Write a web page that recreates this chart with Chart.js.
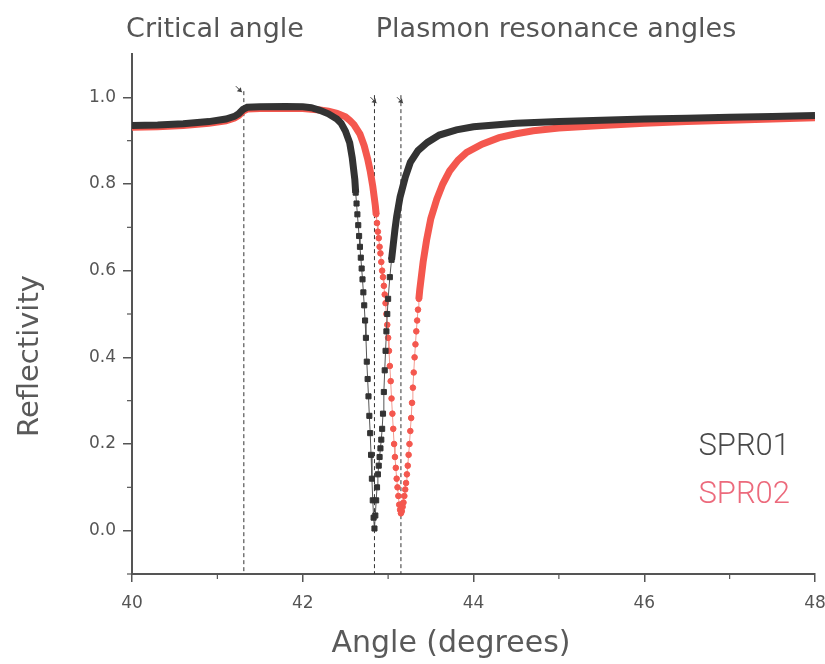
<!DOCTYPE html>
<html>
<head>
<meta charset="utf-8">
<script src="https://cdn.jsdelivr.net/npm/chart.js@4.4.1/dist/chart.umd.min.js"></script>
<style>
  html, body { margin: 0; padding: 0; background: #fff; }
  #wrap { width: 825px; height: 664px; }
</style>
</head>
<body>
<div id="wrap"><canvas id="sprChart"></canvas></div>
<script>
// SPR01 reflectivity curve (angle in degrees)
const spr01Angle = [
  40.0, 40.3, 40.6, 40.9, 41.1, 41.2, 41.25, 41.3, 41.35, 41.5, 41.8, 42.0, 42.1, 42.2, 42.3, 42.4, 42.45, 42.5, 42.55, 42.58, 42.61,
  42.62, 42.63, 42.64, 42.65, 42.66, 42.67, 42.68, 42.69, 42.70, 42.71, 42.72, 42.73, 42.74, 42.75, 42.76, 42.77, 42.78, 42.79,
  42.80, 42.81, 42.82, 42.83, 42.84, 42.85, 42.86, 42.87, 42.88, 42.89, 42.90, 42.91, 42.92, 42.93, 42.94, 42.95, 42.96, 42.97,
  42.98, 42.99, 43.0, 43.02, 43.04, 43.06, 43.08, 43.10, 43.14, 43.2, 43.26, 43.35, 43.46, 43.6, 43.8, 44.0, 44.5, 45.0, 45.5,
  46.0, 46.5, 47.0, 47.5, 48.0
];
const spr01Refl = [
  0.935, 0.936, 0.939, 0.944, 0.950, 0.956, 0.962, 0.972, 0.977, 0.978, 0.979, 0.978, 0.976, 0.970, 0.962, 0.950, 0.940, 0.922, 0.895, 0.86, 0.81,
  0.78, 0.755, 0.73, 0.705, 0.68, 0.655, 0.63, 0.605, 0.58, 0.55, 0.52, 0.485, 0.445, 0.39, 0.35, 0.31, 0.265, 0.225,
  0.175, 0.12, 0.07, 0.03, 0.005, 0.035, 0.07, 0.10, 0.13, 0.15, 0.17, 0.19, 0.21, 0.235, 0.27, 0.32, 0.37, 0.415,
  0.46, 0.50, 0.535, 0.585, 0.625, 0.66, 0.695, 0.725, 0.77, 0.815, 0.85, 0.877, 0.896, 0.913, 0.925, 0.932, 0.940, 0.944, 0.947,
  0.950, 0.952, 0.954, 0.956, 0.958
];

// SPR02 reflectivity curve
const spr02Angle = [
  40.0, 40.3, 40.6, 40.9, 41.1, 41.2, 41.25, 41.3, 41.35, 41.5, 41.8, 42.0, 42.2, 42.3, 42.4, 42.5, 42.55, 42.6, 42.67, 42.72,
  42.76, 42.79, 42.82, 42.85,
  42.86, 42.87, 42.88, 42.89, 42.90, 42.91, 42.92, 42.93, 42.94, 42.95, 42.96, 42.97, 42.98, 42.99, 43.00, 43.01, 43.02, 43.03,
  43.04, 43.05, 43.06, 43.07, 43.08, 43.09, 43.10, 43.11, 43.12, 43.13, 43.14, 43.15, 43.16, 43.17, 43.18, 43.19, 43.20, 43.21,
  43.22, 43.23, 43.24, 43.25, 43.26, 43.27, 43.28, 43.29, 43.30, 43.31, 43.32, 43.33, 43.34, 43.35, 43.36, 43.37,
  43.41, 43.45, 43.50, 43.57, 43.64, 43.72, 43.82, 43.92, 44.1, 44.3, 44.5, 44.7, 45.0, 45.5, 46.0, 46.5, 47.0, 47.5, 48.0
];
const spr02Refl = [
  0.931, 0.932, 0.935, 0.940, 0.946, 0.952, 0.958, 0.968, 0.973, 0.974, 0.975, 0.974, 0.971, 0.968, 0.963, 0.955, 0.947, 0.937, 0.915, 0.888,
  0.858, 0.83, 0.795, 0.75,
  0.73, 0.71, 0.69, 0.675, 0.655, 0.64, 0.62, 0.60, 0.585, 0.565, 0.545, 0.525, 0.50, 0.475, 0.445, 0.415, 0.38, 0.345,
  0.305, 0.27, 0.235, 0.20, 0.17, 0.145, 0.12, 0.10, 0.08, 0.06, 0.048, 0.04, 0.045, 0.055, 0.065, 0.08, 0.095, 0.11,
  0.13, 0.15, 0.175, 0.20, 0.23, 0.26, 0.295, 0.33, 0.365, 0.40, 0.43, 0.46, 0.485, 0.51, 0.535, 0.555,
  0.62, 0.67, 0.72, 0.765, 0.80, 0.83, 0.855, 0.873, 0.892, 0.907, 0.916, 0.923, 0.929, 0.935, 0.940, 0.944, 0.947, 0.950, 0.953
];

const seriesNames = ["SPR01", "SPR02"];
// critical angle, then the two plasmon resonance angles
const markedAngles = [41.31, 42.84, 43.15];
const xTicks = [40, 41, 42, 43, 44, 45, 46, 47, 48];
const yTicks = [-0.1, 0, 0.1, 0.2, 0.3, 0.4, 0.5, 0.6, 0.7, 0.8, 0.9, 1.0];

// angle span where single samples can be told apart (drawn as markers)
const sparseSpan = [[42.615, 43.055], [42.855, 43.365]];

const toPoints = (xs, ys) => xs.map((x, i) => ({ x: x, y: ys[i] }));
const inSpan = (d, x) => x >= sparseSpan[d][0] && x <= sparseSpan[d][1];

const lineColors = ["#333333", "#f4574e"];
const thinColors = ["#555555", "#f39a90"];
const labelColors = ["#4a4a4a", "#ec6a7c"];
const textGrey = "#555";

function makeSet(d, xs, ys, style, radius) {
  return {
    label: seriesNames[d],
    data: toPoints(xs, ys),
    showLine: true,
    borderColor: lineColors[d],
    backgroundColor: lineColors[d],
    borderWidth: 7,
    pointStyle: style,
    pointRadius: ctx => (ctx.raw && inSpan(d, ctx.raw.x) ? radius : 0),
    pointBorderWidth: 1,
    pointHoverRadius: 0,
    segment: {
      borderWidth: ctx => (inSpan(d, ctx.p0.parsed.x) && inSpan(d, ctx.p1.parsed.x) ? 1 : 7),
      borderColor: ctx => (inSpan(d, ctx.p0.parsed.x) && inSpan(d, ctx.p1.parsed.x) ? thinColors[d] : lineColors[d])
    }
  };
}

const overlay = {
  id: "overlay",
  beforeDatasetsDraw(chart) {
    const { ctx, chartArea, scales } = chart;
    const top = scales.y.getPixelForValue(1.005);
    ctx.save();
    ctx.strokeStyle = "#333";
    ctx.lineWidth = 1;
    ctx.setLineDash([4, 3]);
    markedAngles.forEach((a, i) => {
      const px = scales.x.getPixelForValue(a);
      ctx.beginPath();
      ctx.moveTo(px, i === 0 ? top - 4 : top);
      ctx.lineTo(px, chartArea.bottom);
      ctx.stroke();
    });
    ctx.restore();
  },
  afterDraw(chart) {
    const { ctx, chartArea, scales } = chart;
    ctx.save();
    // minor ticks
    ctx.strokeStyle = "#555";
    ctx.lineWidth = 1.2;
    xTicks.filter(v => v % 2 === 1).forEach(v => {
      const px = scales.x.getPixelForValue(v);
      ctx.beginPath();
      ctx.moveTo(px, chartArea.bottom);
      ctx.lineTo(px, chartArea.bottom + 5);
      ctx.stroke();
    });
    yTicks.filter(v => Math.round(v * 10) % 2 !== 0).forEach(v => {
      const py = scales.y.getPixelForValue(v);
      ctx.beginPath();
      ctx.moveTo(chartArea.left, py);
      ctx.lineTo(chartArea.left - 5, py);
      ctx.stroke();
    });

    // little arrows at the top of the marked angles
    const top = scales.y.getPixelForValue(1.005);
    ctx.strokeStyle = "#444";
    ctx.fillStyle = "#444";
    ctx.lineWidth = 1;
    markedAngles.forEach((a, i) => {
      const px = scales.x.getPixelForValue(a);
      const tipX = i === 0 ? px - 2 : px + 2;
      const tipY = i === 0 ? top - 3 : top + 8;
      ctx.beginPath();
      ctx.moveTo(tipX - 6, tipY - 6);
      ctx.lineTo(tipX, tipY);
      ctx.stroke();
      ctx.beginPath();
      ctx.moveTo(tipX, tipY);
      ctx.lineTo(tipX - 5, tipY - 1);
      ctx.lineTo(tipX - 1, tipY - 5);
      ctx.closePath();
      ctx.fill();
    });

    ctx.textAlign = "center";
    ctx.textBaseline = "middle";

    // top annotations
    ctx.fillStyle = textGrey;
    ctx.font = "27px 'DejaVu Sans'";
    ctx.fillText("Critical angle", 215, 30);
    ctx.fillText("Plasmon resonance angles", 556, 30);

    // axis titles
    ctx.fillStyle = "#5a5a5a";
    ctx.font = "30px 'DejaVu Sans'";
    ctx.fillText("Angle (degrees)", 451, 644);
    ctx.save();
    ctx.translate(30, 356);
    ctx.rotate(-Math.PI / 2);
    ctx.font = "29px 'DejaVu Sans'";
    ctx.fillText("Reflectivity", 0, 0);
    ctx.restore();

    // series labels
    ctx.font = "300 31px Roboto";
    ctx.textAlign = "right";
    seriesNames.forEach((name, i) => {
      ctx.fillStyle = labelColors[i];
      ctx.fillText(name, chartArea.right - 25, chartArea.bottom - 127 + i * 48);
    });
    ctx.restore();
  }
};

new Chart(document.getElementById("sprChart"), {
  type: "scatter",
  data: {
    datasets: [
      makeSet(0, spr01Angle, spr01Refl, "rect", 3.6),
      makeSet(1, spr02Angle, spr02Refl, "circle", 2.8)
    ]
  },
  options: {
    responsive: true,
    maintainAspectRatio: false,
    animation: false,
    events: [],
    layout: { padding: { top: 54, right: 0, left: 0, bottom: 0 } },
    plugins: {
      legend: { display: false },
      tooltip: { enabled: false }
    },
    scales: {
      x: {
        type: "linear",
        min: 40,
        max: 48,
        afterBuildTicks: axis => { axis.ticks = xTicks.filter(v => v % 2 === 0).map(v => ({ value: v })); },
        afterFit: axis => {
          axis.height = 90;
          axis.paddingRight = 10;
          axis.paddingLeft = 0;
        },
        border: { display: true, color: "#555", width: 2 },
        grid: { drawOnChartArea: false, drawTicks: true, tickLength: 8, color: "#555", lineWidth: 1.5 },
        ticks: { color: textGrey, font: { family: "'DejaVu Sans'", size: 17 }, padding: 11, maxRotation: 0 }
      },
      y: {
        type: "linear",
        min: -0.1,
        max: 1.1,
        afterBuildTicks: axis => { axis.ticks = yTicks.filter(v => Math.round(v * 10) % 2 === 0 && v >= 0).map(v => ({ value: v })); },
        afterFit: axis => { axis.width = 132; },
        border: { display: true, color: "#555", width: 2 },
        grid: { drawOnChartArea: false, drawTicks: true, tickLength: 9, color: "#555", lineWidth: 1.5 },
        ticks: {
          color: textGrey,
          font: { family: "'DejaVu Sans'", size: 17 },
          padding: 7,
          callback: v => v.toFixed(1)
        }
      }
    }
  },
  plugins: [overlay]
});
</script>
</body>
</html>
